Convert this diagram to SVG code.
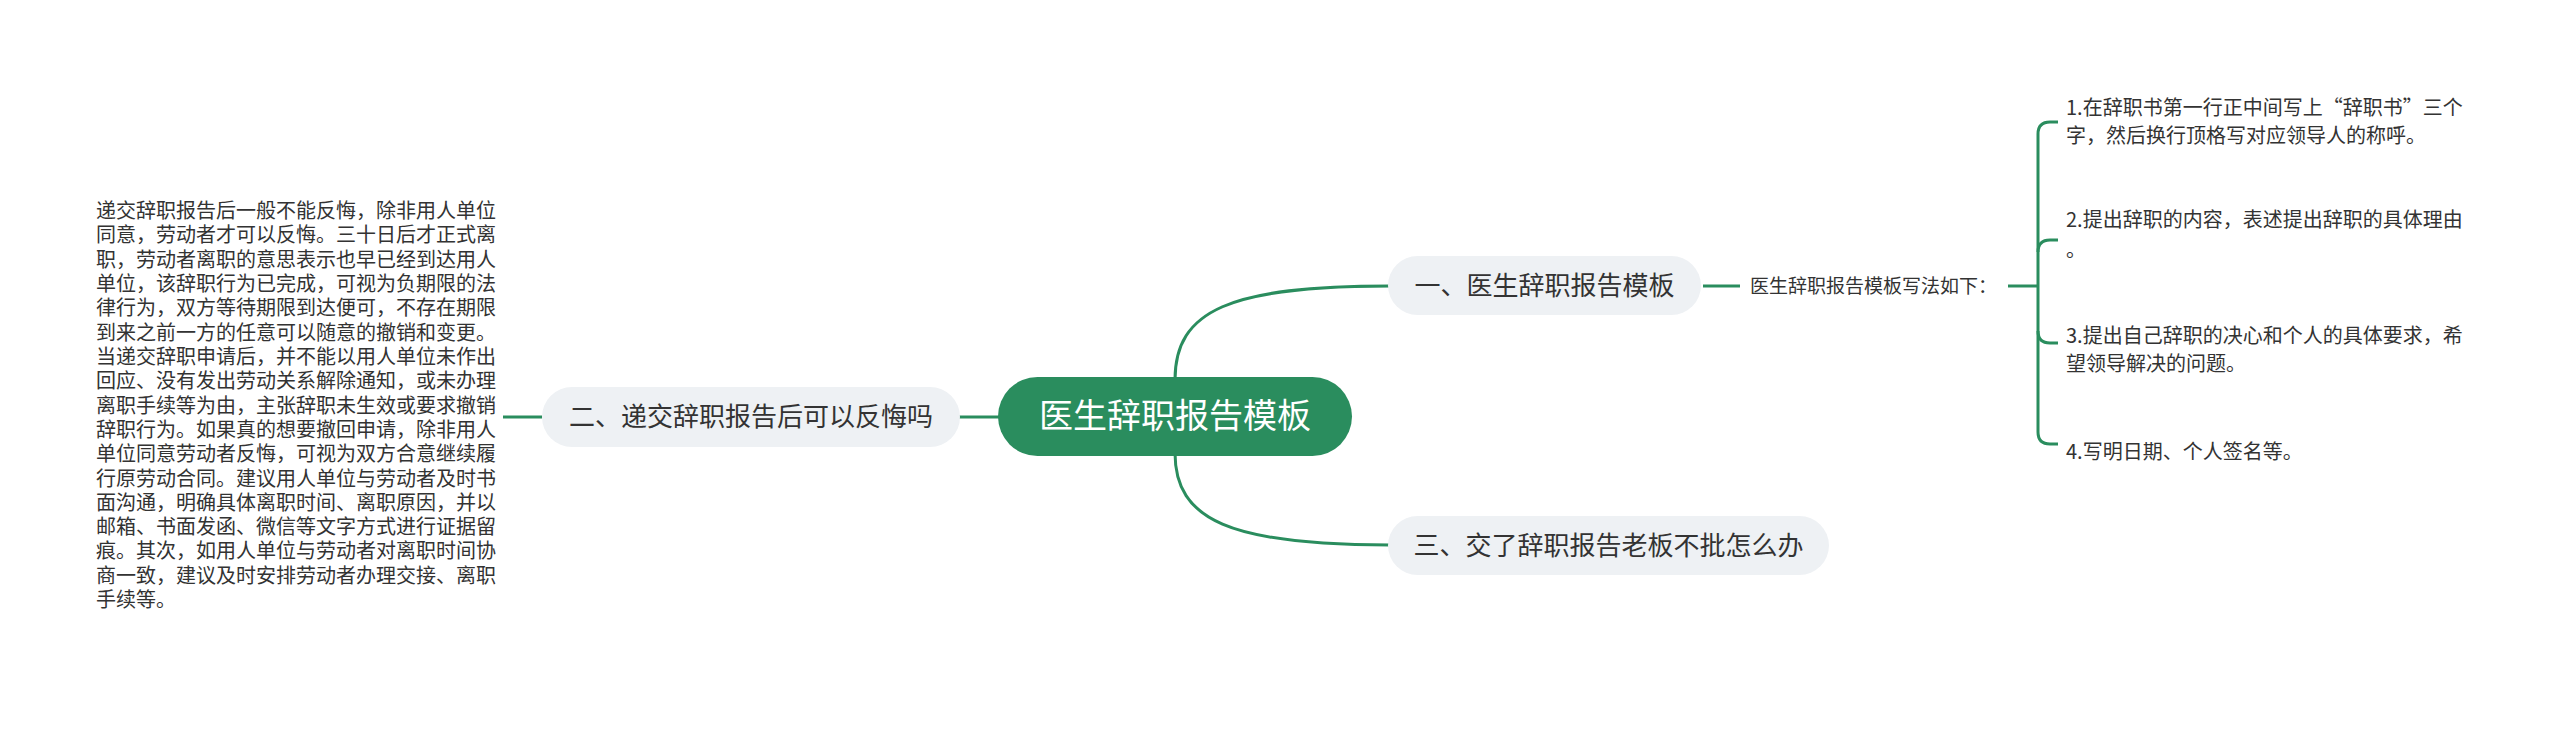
<svg xmlns="http://www.w3.org/2000/svg" width="2560" height="729" viewBox="0 0 2560 729">
<style>
text{font-family:"Noto Sans CJK SC","Liberation Sans",sans-serif;fill:#333}
.pill{fill:#eef1f4}
.l{fill:none;stroke:#2a8d5e;stroke-width:3}
.t{font-size:20px}
.n{font-size:26px}
</style>
<rect width="2560" height="729" fill="#fff"/>
<g id="connectors">
<path class="l" d="M1175,380 C1175,310 1230,286 1390,286"/>
<path class="l" d="M1175,453 C1175,520 1230,545 1390,545"/>
<path class="l" d="M958,417 H1000"/>
<path class="l" d="M503,417 H542"/>
<path class="l" d="M1703,286 H1740"/>
<path class="l" d="M2008,286 H2038"/>
<path class="l" d="M2058,122 H2050 Q2038,122 2038,134 V432 Q2038,444 2050,444 H2058"/>
<path class="l" d="M2038,252 Q2038,240 2050,240 H2058"/>
<path class="l" d="M2038,331 Q2038,343 2050,343 H2058"/>
</g>
<g id="root">
<rect x="998" y="377" width="354" height="79" rx="39.5" fill="#2a8d5e"/>
<text x="1175" y="428" text-anchor="middle" font-size="34" style="fill:#fff">医生辞职报告模板</text>
</g>
<g id="n1">
<rect class="pill" x="1388" y="256" width="313" height="59" rx="29.5"/>
<text class="n" x="1544.5" y="295" text-anchor="middle">一、医生辞职报告模板</text>
</g>
<g id="n2">
<rect class="pill" x="542" y="387" width="418" height="60" rx="30"/>
<text class="n" x="751" y="426" text-anchor="middle">二、递交辞职报告后可以反悔吗</text>
</g>
<g id="n3">
<rect class="pill" x="1388" y="516" width="441" height="59" rx="29.5"/>
<text class="n" x="1608.5" y="555" text-anchor="middle">三、交了辞职报告老板不批怎么办</text>
</g>
<g id="sub">
<text x="1750" y="293" font-size="19">医生辞职报告模板写法如下：</text>
</g>
<g id="items" class="t">
<text x="2066" y="115">1.在辞职书第一行正中间写上“辞职书”三个</text>
<text x="2066" y="143">字，然后换行顶格写对应领导人的称呼。</text>
<text x="2066" y="227">2.提出辞职的内容，表述提出辞职的具体理由</text>
<text x="2066" y="257">。</text>
<text x="2066" y="343">3.提出自己辞职的决心和个人的具体要求，希</text>
<text x="2066" y="371">望领导解决的问题。</text>
<text x="2066" y="459">4.写明日期、个人签名等。</text>
</g>
<g id="leftText" class="t">
<text x="96" y="218">递交辞职报告后一般不能反悔，除非用人单位</text>
<text x="96" y="242">同意，劳动者才可以反悔。三十日后才正式离</text>
<text x="96" y="267">职，劳动者离职的意思表示也早已经到达用人</text>
<text x="96" y="291">单位，该辞职行为已完成，可视为负期限的法</text>
<text x="96" y="315">律行为，双方等待期限到达便可，不存在期限</text>
<text x="96" y="340">到来之前一方的任意可以随意的撤销和变更。</text>
<text x="96" y="364">当递交辞职申请后，并不能以用人单位未作出</text>
<text x="96" y="388">回应、没有发出劳动关系解除通知，或未办理</text>
<text x="96" y="413">离职手续等为由，主张辞职未生效或要求撤销</text>
<text x="96" y="437">辞职行为。如果真的想要撤回申请，除非用人</text>
<text x="96" y="461">单位同意劳动者反悔，可视为双方合意继续履</text>
<text x="96" y="486">行原劳动合同。建议用人单位与劳动者及时书</text>
<text x="96" y="510">面沟通，明确具体离职时间、离职原因，并以</text>
<text x="96" y="534">邮箱、书面发函、微信等文字方式进行证据留</text>
<text x="96" y="558">痕。其次，如用人单位与劳动者对离职时间协</text>
<text x="96" y="583">商一致，建议及时安排劳动者办理交接、离职</text>
<text x="96" y="607">手续等。</text>
</g>
</svg>
